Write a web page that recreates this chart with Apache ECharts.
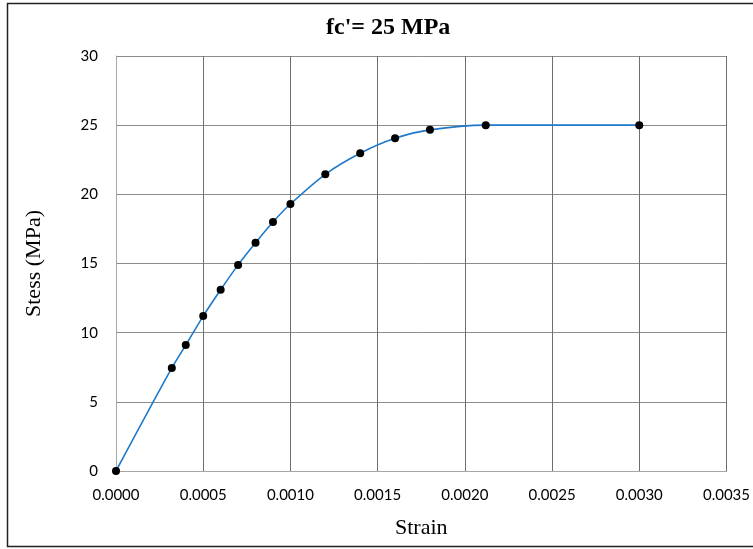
<!DOCTYPE html>
<html>
<head>
    <meta charset="utf-8">
    <title>Stress-Strain</title>
    <script src="https://cdn.jsdelivr.net/npm/echarts@6.0.0/dist/echarts.min.js"></script>
    <style>
        html, body { margin: 0; padding: 0; background: #fff; }
    </style>
</head>
<body>
<div id="main" style="width: 753px;height:549px;"></div>
<script type="text/javascript">
    // values
    var strain = [0, 0.00032, 0.0004, 0.0005, 0.0006, 0.0007, 0.0008, 0.0009, 0.0010,
        0.0012, 0.0014, 0.0016, 0.0018, 0.00212, 0.0030];
    var stress = [0, 7.45, 9.1, 11.2, 13.1, 14.9, 16.5, 18.0, 19.3,
        21.45, 22.97, 24.05, 24.66, 25.0, 25.0];
    var xTicks = [0, 0.0005, 0.0010, 0.0015, 0.0020, 0.0025, 0.0030, 0.0035];
    var yTicks = [0, 5, 10, 15, 20, 25, 30];

    var points = strain.map(function (s, i) { return [s, stress[i]]; });

    var myChart = echarts.init(document.getElementById('main'));
    var option = {
        animation: false,
        title: {
            text: "fc'= 25 MPa",
            left: 321,
            top: 11,
            textStyle: {
                fontFamily: 'Liberation Serif',
                fontWeight: 'bold',
                fontSize: 24,
                color: '#000'
            }
        },
        grid: {
            left: 116,
            right: 25,
            top: 56,
            bottom: 78
        },
        xAxis: {
            type: 'value',
            min: xTicks[0],
            max: xTicks[xTicks.length - 1],
            interval: 0.0005,
            name: 'Strain',
            nameLocation: 'middle',
            nameGap: 46,
            nameTextStyle: {
                fontFamily: 'Liberation Serif',
                fontSize: 22,
                color: '#000'
            },
            axisLine: { show: true, lineStyle: { color: '#a6a6a6', width: 1 } },
            axisTick: { show: false },
            axisLabel: {
                margin: 17,
                fontFamily: 'Lato',
                fontSize: 15,
                color: '#000',
                formatter: function (v) { return v.toFixed(4); }
            },
            splitLine: { show: true, lineStyle: { color: '#6e6e6e', width: 1 } }
        },
        yAxis: {
            type: 'value',
            min: yTicks[0],
            max: yTicks[yTicks.length - 1],
            interval: 5,
            name: 'Stess (MPa)',
            nameLocation: 'middle',
            nameGap: 71,
            nameTextStyle: {
                fontFamily: 'Liberation Serif',
                fontSize: 22,
                color: '#000'
            },
            axisLine: { show: true, lineStyle: { color: '#a6a6a6', width: 1 } },
            axisTick: { show: false },
            axisLabel: {
                margin: 18,
                fontFamily: 'Lato',
                fontSize: 15,
                color: '#000'
            },
            splitLine: { show: true, lineStyle: { color: '#8c8c8c', width: 1 } }
        },
        series: [{
            type: 'line',
            data: points,
            smooth: 0.3,
            symbol: 'circle',
            symbolSize: 8,
            itemStyle: { color: '#000' },
            lineStyle: { color: '#1f78c8', width: 1.6 },
            z: 5
        }],
        graphic: {
            elements: [{
                type: 'rect',
                shape: { x: 7.5, y: 3.5, width: 800, height: 543 },
                style: { fill: null, stroke: '#222', lineWidth: 1.5 },
                silent: true
            }]
        }
    };
    myChart.setOption(option);
</script>
</body>
</html>
